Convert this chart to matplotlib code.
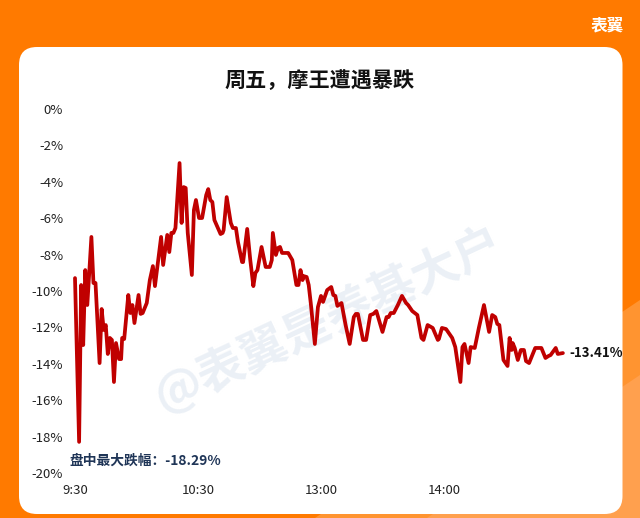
import matplotlib
matplotlib.use("Agg")
import matplotlib.pyplot as plt
from matplotlib.patches import FancyBboxPatch, Polygon

plt.rcParams['font.family'] = ['Noto Sans CJK SC', 'DejaVu Sans']

# minutes of trading since 9:30 and change in %
minutes = [0, 2, 3, 4, 5, 6, 8, 9, 10, 12, 13, 14, 15, 16, 17, 18, 19, 20, 21.5, 22.5,
           23, 24, 26, 27, 28, 29, 31, 32, 33, 35, 36.5, 38, 39, 42, 43, 45, 46, 47, 48, 49,
           51, 52, 53, 54, 55, 57, 58, 59, 60.5, 62, 64, 65, 66, 67, 68, 71, 72, 72.5, 74, 76,
           77, 78.5, 79.5, 81.5, 82, 84, 85.5, 87, 88, 89, 91, 93, 95, 96, 96.5, 98, 99, 100, 101, 104,
           106, 108, 109, 110, 111, 111.5, 113, 114, 115, 117, 118.5, 120, 121, 123, 125, 126, 127, 128, 130, 132,
           134, 136, 137, 138, 140.5, 142, 144, 145.5, 147, 150, 152, 153, 154, 155.5, 157.5, 159.5, 161.5, 162.5, 164.5, 167,
           169, 170, 172, 174.5, 177, 177.5, 179, 181, 184, 185.5, 188, 189, 190, 192, 193, 195, 197, 199.5, 202, 203.5,
           205, 206, 207, 209, 211, 212, 213, 213.5, 214.5, 216, 217.5, 219, 220, 221.5, 224.5, 227.5, 229.5, 231, 232, 234.5,
           235.5, 238]
change = [-9.29, -18.29, -9.67, -12.97, -8.85, -10.77, -7.03, -9.56, -9.56, -13.96, -10.99, -12.14, -11.87, -13.46, -12.58, -12.69, -15.0, -12.86, -13.74, -13.74,
          -12.58, -12.64, -10.22, -11.21, -10.77, -11.76, -10.22, -11.26, -11.21, -10.66, -9.4, -8.63, -9.73, -7.03, -8.57, -6.92, -7.86, -6.81, -6.81, -6.54,
          -2.97, -6.26, -4.29, -4.34, -6.81, -9.12, -5.55, -5.0, -5.99, -5.99, -4.73, -4.4, -5.0, -5.11, -6.1, -6.87, -6.81, -6.65, -4.84, -6.26,
          -6.54, -6.54, -7.31, -8.41, -8.41, -6.59, -8.3, -9.73, -9.01, -8.85, -7.58, -8.68, -8.68, -8.3, -6.81, -8.02, -7.64, -7.58, -7.91, -7.91,
          -8.3, -9.67, -9.67, -8.85, -9.4, -9.18, -9.23, -9.67, -10.66, -12.91, -10.88, -10.27, -10.6, -9.95, -9.78, -10.22, -10.27, -10.82, -10.66, -11.87,
          -12.91, -11.43, -11.26, -11.26, -12.69, -12.69, -11.32, -11.26, -11.1, -12.25, -11.43, -11.43, -11.21, -11.21, -10.77, -10.27, -10.66, -10.77, -11.1, -11.32,
          -12.58, -12.69, -11.87, -12.03, -12.69, -12.64, -12.03, -12.09, -12.58, -13.08, -15.0, -13.08, -12.91, -13.96, -13.08, -13.13, -12.03, -10.77, -12.25, -11.32,
          -11.43, -11.81, -11.87, -13.79, -14.12, -12.58, -13.24, -12.86, -13.13, -13.79, -13.24, -13.24, -13.85, -13.96, -13.13, -13.13, -13.68, -13.57, -13.52, -13.13,
          -13.46, -13.41]

y_ticks = list(range(0, -22, -2))
y_labels = ["%d%%" % v for v in y_ticks]
x_ticks = [0, 60, 120, 180]
x_labels = ["9:30", "10:30", "13:00", "14:00"]

W, H = 640, 518
fig = plt.figure(figsize=(W / 100, H / 100), dpi=100)

# background layer in pixel coords
bg = fig.add_axes([0, 0, 1, 1])
bg.set_xlim(0, W)
bg.set_ylim(H, 0)
bg.axis("off")
fig.patch.set_facecolor("#FF7A00")
bg.add_patch(Polygon([[315, 518], [640, 300], [640, 518]], color="#FF9430", lw=0))
bg.add_patch(Polygon([[427, 518], [640, 375], [640, 518]], color="#FFA04E", lw=0))
bg.add_patch(FancyBboxPatch((19 + 18, 47 + 18), 603.5 - 36, 467 - 36,
                            boxstyle="round,pad=18,rounding_size=18", fc="white", ec="none"))
bg.text(607.5, 25, "表翼", color="white", fontsize=12, fontweight="bold", ha="center", va="center")
bg.text(320, 80, "周五，摩王遭遇暴跌", color="#111111", fontsize=15.2, fontweight="bold", ha="center", va="center")
bg.text(328, 320, "@表翼是养基大户", color="#EBF0F6", fontsize=34, fontweight="bold",
        ha="center", va="center", rotation=25, rotation_mode="anchor")

# chart
ax = fig.add_axes([75 / W, 1 - 473 / H, 492 / W, 364 / H])
ax.patch.set_alpha(0)
ax.plot(minutes, change, color="#C00000", lw=2.7, solid_joinstyle="round", solid_capstyle="round", clip_on=False)
ax.set_xlim(0, 240)
ax.set_ylim(-20, 0)
ax.set_yticks(y_ticks)
ax.set_yticklabels(y_labels, fontsize=9.5, color="#222222")
ax.set_xticks(x_ticks)
ax.set_xticklabels(x_labels, fontsize=9.5, color="#222222")
ax.tick_params(length=0, pad=8.5, axis="y")
ax.tick_params(length=0, pad=8, axis="x")
for s in ax.spines.values():
    s.set_visible(False)

ax.annotate("-13.41%", xy=(minutes[-1], change[-1]), xytext=(5, 0), textcoords="offset points",
            fontsize=9.6, fontweight="bold", color="#111111", va="center", ha="left")
bg.text(69, 461, "盘中最大跌幅：-18.29%", fontsize=9.9, fontweight="bold", color="#1F3557", ha="left", va="center")

fig.savefig("out.png", dpi=100, facecolor=fig.get_facecolor())
